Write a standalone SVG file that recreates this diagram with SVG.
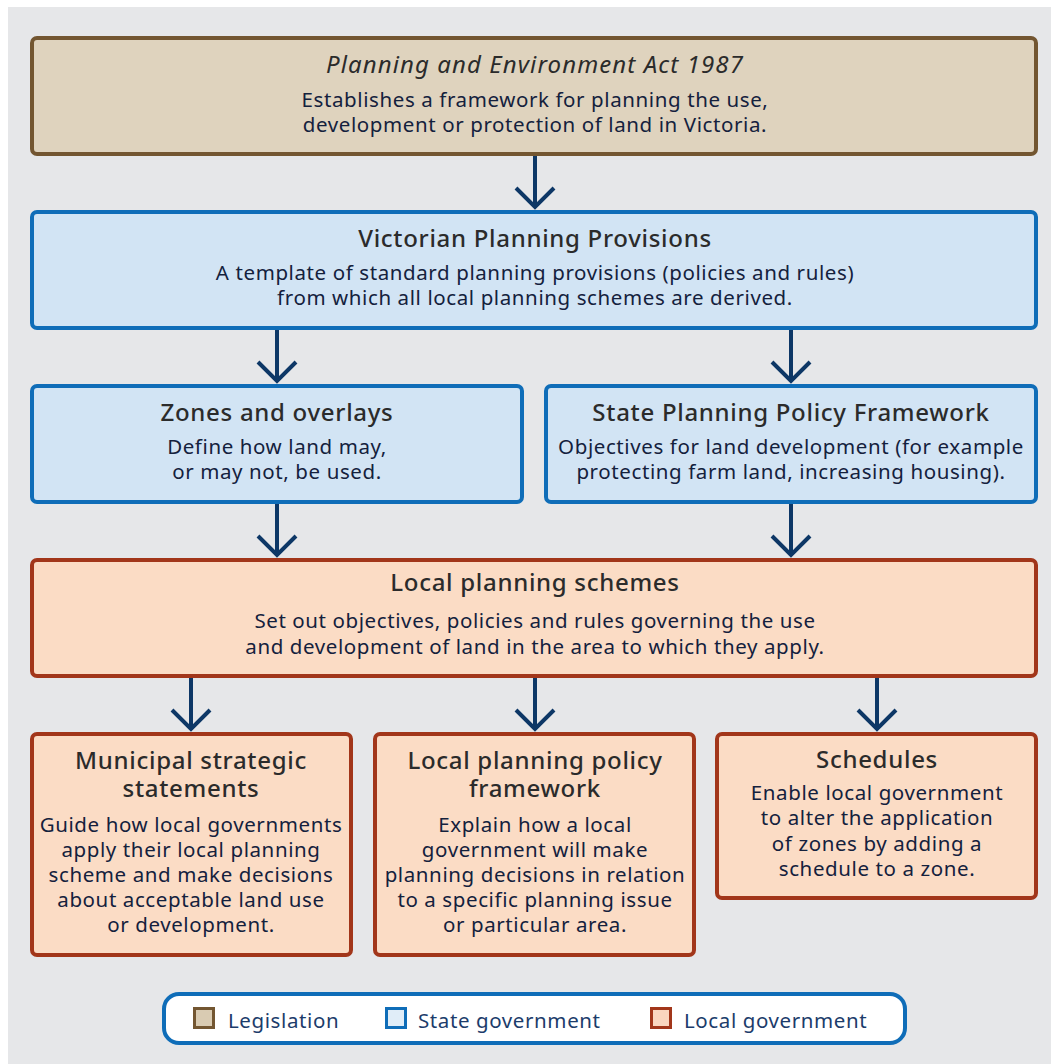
<svg xmlns="http://www.w3.org/2000/svg" width="1051" height="1064" viewBox="0 0 1051 1064">
<defs>
<style>
.leg{fill:#DFD3BE;stroke:#735631;stroke-width:4}
.st{fill:#D2E4F4;stroke:#0F6DB8;stroke-width:4}
.lo{fill:#FBDCC5;stroke:#A2361A;stroke-width:4}
.t{font-family:"Noto Sans","Open Sans",sans-serif;font-size:24px;font-weight:500;letter-spacing:0.7px;fill:#2B2B2B;text-anchor:middle}
.ti{font-style:italic;font-weight:400;letter-spacing:1.1px}
.b{font-family:"Noto Sans","Open Sans",sans-serif;font-size:20.5px;letter-spacing:0.6px;fill:#14213D;text-anchor:middle}
.lg{font-family:"Noto Sans","Open Sans",sans-serif;font-size:20.5px;letter-spacing:0.6px;fill:#1C3C6B}
.arr{fill:none;stroke:#0D3766;stroke-width:4}
</style>
</defs>
<rect x="0" y="0" width="1051" height="1064" fill="#FFFFFF"/>
<rect x="8" y="7" width="1043" height="1057" fill="#E6E7E9"/>

<g id="connectors">
<path class="arr" d="M535 155V206M516 188L535 207L554 188"/>
<path class="arr" d="M277 329V380M258 362L277 381L296 362"/>
<path class="arr" d="M791 329V380M772 362L791 381L810 362"/>
<path class="arr" d="M277 503V554M258 536L277 555L296 536"/>
<path class="arr" d="M791 503V554M772 536L791 555L810 536"/>
<path class="arr" d="M191 677V728M172 710L191 729L210 710"/>
<path class="arr" d="M535 677V728M516 710L535 729L554 710"/>
<path class="arr" d="M877 677V728M858 710L877 729L896 710"/>
</g>

<g id="act">
<rect class="leg" x="32" y="38" width="1004" height="116" rx="5"/>
<text class="t ti" x="535" y="73">Planning and Environment Act 1987</text>
<text class="b" x="535" y="107">Establishes a framework for planning the use,</text>
<text class="b" x="535" y="132">development or protection of land in Victoria.</text>
</g>

<g id="vpp">
<rect class="st" x="32" y="212" width="1004" height="116" rx="5"/>
<text class="t" x="535" y="247">Victorian Planning Provisions</text>
<text class="b" x="535" y="280">A template of standard planning provisions (policies and rules)</text>
<text class="b" x="535" y="305">from which all local planning schemes are derived.</text>
</g>

<g id="zones">
<rect class="st" x="32" y="386" width="490" height="116" rx="5"/>
<text class="t" x="277" y="421">Zones and overlays</text>
<text class="b" x="277" y="454">Define how land may,</text>
<text class="b" x="277" y="479">or may not, be used.</text>
</g>

<g id="sppf">
<rect class="st" x="546" y="386" width="490" height="116" rx="5"/>
<text class="t" x="791" y="421">State Planning Policy Framework</text>
<text class="b" x="791" y="454">Objectives for land development (for example</text>
<text class="b" x="791" y="479">protecting farm land, increasing housing).</text>
</g>

<g id="lps">
<rect class="lo" x="32" y="560" width="1004" height="116" rx="5"/>
<text class="t" x="535" y="591">Local planning schemes</text>
<text class="b" x="535" y="628">Set out objectives, policies and rules governing the use</text>
<text class="b" x="535" y="654">and development of land in the area to which they apply.</text>
</g>

<g id="mss">
<rect class="lo" x="32" y="734" width="319" height="221" rx="5"/>
<text class="t" x="191" y="769">Municipal strategic</text>
<text class="t" x="191" y="797">statements</text>
<text class="b" x="191" y="832">Guide how local governments</text>
<text class="b" x="191" y="857">apply their local planning</text>
<text class="b" x="191" y="882">scheme and make decisions</text>
<text class="b" x="191" y="907">about acceptable land use</text>
<text class="b" x="191" y="932">or development.</text>
</g>

<g id="lppf">
<rect class="lo" x="375" y="734" width="319" height="221" rx="5"/>
<text class="t" x="535" y="769">Local planning policy</text>
<text class="t" x="535" y="797">framework</text>
<text class="b" x="535" y="832">Explain how a local</text>
<text class="b" x="535" y="857">government will make</text>
<text class="b" x="535" y="882">planning decisions in relation</text>
<text class="b" x="535" y="907">to a specific planning issue</text>
<text class="b" x="535" y="932">or particular area.</text>
</g>

<g id="schedules">
<rect class="lo" x="717" y="734" width="319" height="164" rx="5"/>
<text class="t" x="877" y="768">Schedules</text>
<text class="b" x="877" y="800">Enable local government</text>
<text class="b" x="877" y="825">to alter the application</text>
<text class="b" x="877" y="851">of zones by adding a</text>
<text class="b" x="877" y="876">schedule to a zone.</text>
</g>

<g id="legend">
<rect x="164" y="994" width="741" height="49" rx="15" fill="#FFFFFF" stroke="#0F6DB8" stroke-width="4"/>
<rect x="194.5" y="1008.5" width="19" height="19" fill="#D9CBB2" stroke="#735631" stroke-width="3"/>
<text class="lg" x="228" y="1028">Legislation</text>
<rect x="386.5" y="1008.5" width="19" height="19" fill="#E0EDF8" stroke="#0F6DB8" stroke-width="3"/>
<text class="lg" x="418" y="1028">State government</text>
<rect x="651.5" y="1008.5" width="19" height="19" fill="#FAD6BF" stroke="#A2361A" stroke-width="3"/>
<text class="lg" x="684" y="1028">Local government</text>
</g>
</svg>
